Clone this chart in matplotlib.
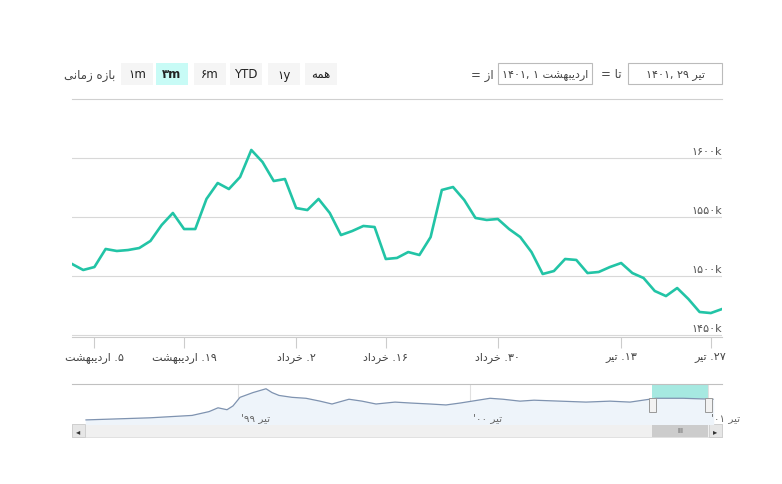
"""Stock-style price chart (Persian calendar) with range selector and navigator."""

import matplotlib

matplotlib.use("Agg")
import matplotlib.pyplot as plt
from matplotlib.patches import Rectangle

plt.rcParams["font.family"] = ["DejaVu Sans"]

# ── Data ───────────────────────────────────────────────────────────────
prices = [
    1510.2, 1505.1, 1507.6, 1522.9, 1521.2, 1522.0, 1523.7, 1529.7, 1543.2, 1553.4,
    1539.8, 1539.8, 1565.3, 1578.8, 1573.7, 1583.9, 1606.8, 1596.6, 1580.5, 1582.2,
    1557.6, 1555.9, 1565.3, 1553.4, 1534.7, 1538.1, 1542.4, 1541.5, 1514.4, 1515.3,
    1520.3, 1517.8, 1533.0, 1572.9, 1575.4, 1564.4, 1549.2, 1547.5, 1548.3, 1539.8,
    1533.0, 1520.3, 1501.7, 1504.2, 1514.4, 1513.6, 1502.5, 1503.4, 1507.6, 1511.0,
    1502.5, 1498.3, 1487.3, 1483.0, 1489.8, 1480.5, 1469.5, 1468.6, 1472.0,
]
tick_idx = [2, 10, 20, 28, 38, 49, 57]
tick_month = ["اردیبهشت", "اردیبهشت", "خرداد", "خرداد", "خرداد", "تیر", "تیر"]
tick_day = ["5", "19", "2", "16", "30", "13", "27"]
y_ticks = [1450, 1500, 1550, 1600]

# navigator: long history, pixel-ish x and relative level
nav_x = [86, 150, 192, 209, 218, 227, 233, 240, 253, 266, 272, 279, 292, 306, 320,
         332, 349, 362, 376, 395, 411, 430, 446, 460, 472, 490, 503, 520, 534, 560,
         586, 610, 630, 656, 683, 713]
nav_level = [4.3, 6.5, 9, 13, 17, 15, 19, 28, 33, 37, 33, 30, 28, 27, 24,
             21, 26, 24, 21, 23, 22, 21, 20, 22, 24, 27, 26, 24, 25, 24,
             23, 24, 23, 27, 27, 26]
nav_ticks = [238, 470, 708]
nav_labels = ["تیر '99", "تیر '00", "تیر '01"]

buttons = ["1m", "3m", "6m", "YTD", "1y", "همه"]
selected_button = "3m"

# ── Minimal Persian shaping ────────────────────────────────────────────
FORMS = {  # isolated, final, initial, medial
    "ا": ("\uFE8D", "\uFE8E", None, None),
    "ب": ("\uFE8F", "\uFE90", "\uFE91", "\uFE92"),
    "ت": ("\uFE95", "\uFE96", "\uFE97", "\uFE98"),
    "خ": ("\uFEA5", "\uFEA6", "\uFEA7", "\uFEA8"),
    "د": ("\uFEA9", "\uFEAA", None, None),
    "ر": ("\uFEAD", "\uFEAE", None, None),
    "ز": ("\uFEAF", "\uFEB0", None, None),
    "ش": ("\uFEB5", "\uFEB6", "\uFEB7", "\uFEB8"),
    "م": ("\uFEE1", "\uFEE2", "\uFEE3", "\uFEE4"),
    "ن": ("\uFEE5", "\uFEE6", "\uFEE7", "\uFEE8"),
    "ه": ("\uFEE9", "\uFEEA", "\uFEEB", "\uFEEC"),
    "ی": ("\uFBFC", "\uFBFD", "\uFBFE", "\uFBFF"),
}
FA_DIGITS = str.maketrans("0123456789", "۰۱۲۳۴۵۶۷۸۹")


def fa(s):
    return s.translate(FA_DIGITS)


def shape(word):
    """Return a Persian word shaped and in visual (left-to-right) order."""
    out = []
    for i, ch in enumerate(word):
        if ch not in FORMS:
            out.append(ch)
            continue
        prev = word[i - 1] if i > 0 else None
        nxt = word[i + 1] if i + 1 < len(word) else None
        joins_prev = prev in FORMS and FORMS[prev][2] is not None
        joins_next = nxt in FORMS and FORMS[ch][2] is not None
        iso, fin, ini, med = FORMS[ch]
        if joins_prev and joins_next:
            out.append(med)
        elif joins_prev:
            out.append(fin)
        elif joins_next:
            out.append(ini)
        else:
            out.append(iso)
    return "".join(reversed(out))


def phrase(text):
    return " ".join(shape(w) for w in reversed(text.split()))


# ── Figure ─────────────────────────────────────────────────────────────
W, H = 782, 485
fig = plt.figure(figsize=(W / 100, H / 100), dpi=100)
fig.patch.set_facecolor("white")


def axes_px(x0, y0, x1, y1):
    return fig.add_axes([x0 / W, 1 - y1 / H, (x1 - x0) / W, (y1 - y0) / H])


TXT = "#444444"

# top bar
bar = fig.add_axes([0, 0, 1, 1])
bar.set_xlim(0, W)
bar.set_ylim(H, 0)
bar.axis("off")
bar.text(115, 75, phrase("بازه زمانی"), ha="right", va="center", fontsize=8.5, color=TXT)
bx = [121, 156, 194, 230, 268, 305]
for x, b in zip(bx, buttons):
    w = 32
    sel = b == selected_button
    bar.add_patch(Rectangle((x, 64), w, 22, facecolor="#c8fbf6" if sel else "#f5f5f5",
                            edgecolor="none"))
    label = shape(b) if b == "همه" else fa(b)
    bar.text(x + w / 2, 75, label, ha="center", va="center", fontsize=8.5, color="#222222",
             fontweight="bold" if sel else "normal")
bar.text(494, 75, "= " + shape("از"), ha="right", va="center", fontsize=8.5, color=TXT)
bar.add_patch(Rectangle((498, 64), 94, 21, facecolor="white", edgecolor="#bbbbbb", lw=0.8))
bar.text(545, 75, fa("1401, 1 ") + shape("اردیبهشت"), ha="center", va="center",
         fontsize=8, color=TXT)
bar.text(622, 75, "= " + shape("تا"), ha="right", va="center", fontsize=8.5, color=TXT)
bar.add_patch(Rectangle((628, 64), 94, 21, facecolor="white", edgecolor="#bbbbbb", lw=0.8))
bar.text(675, 75, fa("1401, 29 ") + shape("تیر"), ha="center", va="center",
         fontsize=8, color=TXT)
bar.plot([72, 722], [100, 100], color="#d0d0d0", lw=0.8)

# main chart
ax = axes_px(72, 100, 722, 338)
n = len(prices)
ax.set_xlim(0, n - 1)
ymin = 1600 - (338 - 159) * 50 / 59
ymax = 1600 + (159 - 100) * 50 / 59
ax.set_ylim(ymin, ymax)
ax.plot(range(n), prices, color="#22c4a6", lw=1.9, solid_joinstyle="round")
for v in y_ticks:
    ax.axhline(v, color="#d8d8d8", lw=0.8, zorder=0)
    ax.text(n - 1, v + 1.5, fa(f"{v}") + "k", ha="right", va="bottom",
            fontsize=8, color="#555555")
for s in ax.spines.values():
    s.set_visible(False)
ax.spines["bottom"].set_visible(True)
ax.spines["bottom"].set_color("#cccccc")
ax.set_yticks([])
ax.set_xticks(tick_idx)
ax.set_xticklabels([shape(m) + " ." + fa(d) for m, d in zip(tick_month, tick_day)],
                   fontsize=8, color=TXT)
ax.tick_params(axis="x", length=8, color="#cccccc", pad=2)
ax.patch.set_alpha(0)

# navigator
nav = axes_px(72, 385, 722, 425)
nav.set_xlim(72, 722)
nav.set_ylim(0, 42)
nav.fill_between(nav_x, nav_level, 0, color="#eef4fa")
nav.plot(nav_x, nav_level, color="#7f93b0", lw=0.9)
nav.add_patch(Rectangle((652, 0), 56, 42, facecolor="#a6e9e1", edgecolor="none", zorder=0))
for t, lab in zip(nav_ticks, nav_labels):
    nav.axvline(t, color="#e0e0e0", lw=0.8, zorder=0)
    parts = lab.split()
    nav.text(t + 3, 2, fa(parts[1]) + " " + shape(parts[0]),
             ha="left", va="bottom", fontsize=7.5, color="#666666")
for hx in (652, 708):
    nav.add_patch(Rectangle((hx - 3.5, 13), 7, 14, facecolor="#f2f2f2", edgecolor="#999999",
                            lw=0.7, zorder=5))
nav.set_xticks([])
nav.set_yticks([])
for s in nav.spines.values():
    s.set_visible(False)
nav.spines["top"].set_visible(True)
nav.spines["top"].set_color("#c0c0c0")

# scrollbar
bar.add_patch(Rectangle((72, 425), 650, 13, facecolor="#f0f0f0", edgecolor="#dddddd", lw=0.6))
bar.add_patch(Rectangle((652, 425), 56, 13, facecolor="#cccccc", edgecolor="none"))
bar.text(680, 431.5, "III", ha="center", va="center", fontsize=5, color="#555555")
bar.add_patch(Rectangle((72, 425), 13, 13, facecolor="#e6e6e6", edgecolor="#cccccc", lw=0.6))
bar.add_patch(Rectangle((709, 425), 13, 13, facecolor="#e6e6e6", edgecolor="#cccccc", lw=0.6))
bar.text(78.5, 431.5, "◂", ha="center", va="center", fontsize=6, color="#333333")
bar.text(715.5, 431.5, "▸", ha="center", va="center", fontsize=6, color="#333333")

fig.savefig("out.png", dpi=100, facecolor="white")
